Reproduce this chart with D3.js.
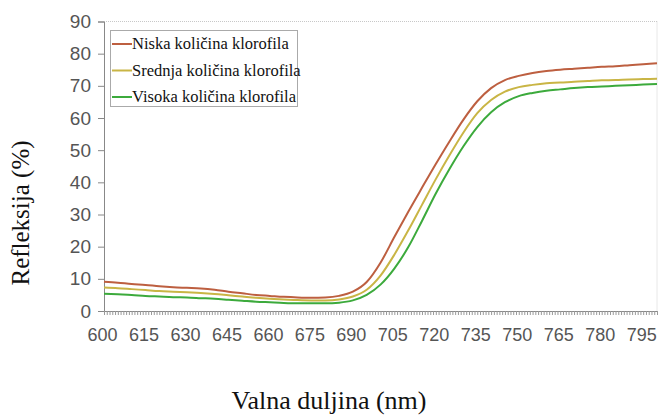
<!DOCTYPE html>
<html><head><meta charset="utf-8">
<script src="https://cdn.jsdelivr.net/npm/d3@7"></script>
<style>body{margin:0;background:#fff}svg{display:block}
.serif{font-family:"Liberation Serif","Times New Roman","DejaVu Serif",serif}
.sans{font-family:"Liberation Sans",Arial,sans-serif}</style>
</head><body>
<svg id="c" width="662" height="419"></svg>
<script>
const wavelengths = [600,605,610,615,620,625,630,635,640,645,650,655,660,665,670,675,680,685,690,695,700,705,710,715,720,725,730,735,740,745,750,755,760,765,770,775,780,785,790,795,800];
const niska   = [9.1,8.8,8.4,8.1,7.7,7.4,7.2,7.0,6.6,6.0,5.5,5.0,4.7,4.4,4.2,4.1,4.2,4.7,6.0,9.0,15.0,23.0,30.8,38.3,45.7,52.8,59.5,65.2,69.3,71.8,73.1,74.0,74.6,75.0,75.3,75.6,75.9,76.1,76.4,76.7,77.0];
const srednja = [7.3,7.1,6.8,6.5,6.2,6.0,5.8,5.6,5.3,4.9,4.5,4.1,3.8,3.6,3.4,3.3,3.3,3.6,4.5,6.6,11.0,17.5,25.0,33.0,41.0,48.5,55.5,61.5,65.6,68.2,69.6,70.3,70.8,71.0,71.3,71.5,71.7,71.8,72.0,72.1,72.2];
const visoka  = [5.4,5.2,5.0,4.7,4.5,4.3,4.2,4.0,3.8,3.5,3.2,2.9,2.7,2.5,2.4,2.4,2.4,2.6,3.3,5.0,8.2,13.2,19.8,28.0,36.5,44.2,51.2,57.2,61.8,64.9,66.8,67.8,68.5,68.9,69.3,69.6,69.8,70.0,70.2,70.4,70.6];
const seriesNames = ["Niska količina klorofila","Srednja količina klorofila","Visoka količina klorofila"];
const seriesColors = ["#bd5f40","#c9b545","#3caa3c"];
const yTicks = [0,10,20,30,40,50,60,70,80,90];
const xTickLabels = [600,615,630,645,660,675,690,705,720,735,750,765,780,795];
const yTitle = "Refleksija (%)";
const xTitle = "Valna duljina (nm)";

const svg = d3.select("#c");
const x = d3.scaleLinear().domain([600,800]).range([104,657]);
const y = d3.scaleLinear().domain([0,90]).range([311,21.5]);

svg.append("line").attr("x1",x(600)).attr("x2",x(800)).attr("y1",y(90)).attr("y2",y(90))
  .attr("stroke","#c8c8c8").attr("stroke-dasharray","1,1");
svg.append("line").attr("x1",x(800)).attr("x2",x(800)).attr("y1",y(90)).attr("y2",y(0))
  .attr("stroke","#d0d0d0").attr("stroke-dasharray","1,1");

const yAxis = d3.axisLeft(y).tickValues(yTicks).tickSize(6).tickPadding(7);
const gy = svg.append("g").attr("transform",`translate(${x(600)},0)`).call(yAxis);
gy.attr("font-family",null).attr("font-size",null);
gy.select(".domain").attr("stroke","#888");
gy.selectAll(".tick line").attr("stroke","#888");
gy.selectAll("text").attr("class","sans").attr("fill","#555").style("font-size","19px");

const gxMinor = svg.append("g").attr("transform",`translate(0,${y(0)})`)
  .call(d3.axisBottom(x).tickValues(d3.range(600,801,1)).tickSize(4).tickFormat(""));
gxMinor.select(".domain").attr("stroke","#888");
gxMinor.selectAll(".tick line").attr("stroke","#999");
const gx = svg.append("g").attr("transform",`translate(-2,${y(0)})`)
  .call(d3.axisBottom(x).tickValues(xTickLabels).tickSize(0).tickPadding(17));
gx.attr("font-family",null).attr("font-size",null);
gx.select(".domain").remove();
gx.selectAll("text").attr("class","sans").attr("fill","#555").style("font-size","18px");

const allSeries = [niska, srednja, visoka];
const line = d3.line().x((d,i)=>x(wavelengths[i])).y(d=>y(d)).curve(d3.curveMonotoneX);
allSeries.forEach((s,k)=>{
  svg.append("path").datum(s).attr("d",line).attr("fill","none")
    .attr("stroke",seriesColors[k]).attr("stroke-width",2);
});

const lg = svg.append("g");
lg.append("rect").attr("x",110.5).attr("y",30.5).attr("width",187).attr("height",76)
  .attr("fill","#fff").attr("stroke","#aaa");
seriesNames.forEach((n,k)=>{
  const yy = 44 + k*26.5;
  lg.append("line").attr("x1",112).attr("x2",132).attr("y1",yy).attr("y2",yy)
    .attr("stroke",seriesColors[k]).attr("stroke-width",2);
  lg.append("text").attr("class","serif").attr("x",132).attr("y",yy+5).text(n)
    .style("font-size","16.5px").attr("fill","#111");
});

svg.append("text").attr("class","serif").attr("x",329).attr("y",409).attr("text-anchor","middle").text(xTitle)
  .style("font-size","26px").attr("fill","#111");
svg.append("text").attr("class","serif").attr("transform","translate(29,213) rotate(-90)").attr("text-anchor","middle").text(yTitle)
  .style("font-size","25px").attr("fill","#111");
</script>
</body></html>
